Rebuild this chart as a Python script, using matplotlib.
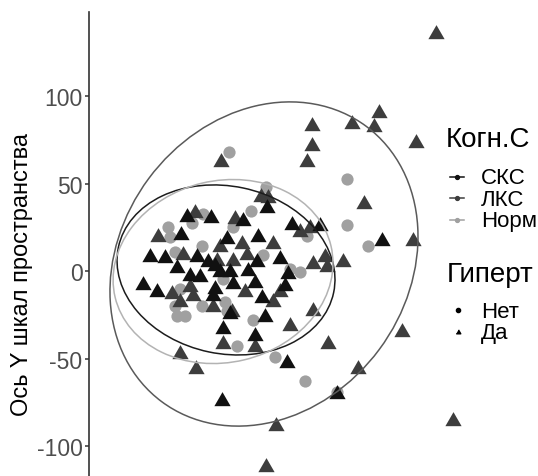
import numpy as np
import matplotlib
matplotlib.use("Agg")
import matplotlib.pyplot as plt
from matplotlib.patches import Ellipse
from matplotlib.lines import Line2D

plt.rcParams['font.family'] = ['Liberation Sans', 'DejaVu Sans']
plt.rcParams['axes.unicode_minus'] = False

# ---- data ----
groups = ["СКС", "ЛКС", "Норм"]          # legend labels as visible (cut at the picture edge)
group_colors = ["#111111", "#3d3d3d", "#a0a0a0"]
ellipse_colors = ["#1c1c1c", "#5a5a5a", "#b3b3b3"]
hyper_labels = ["Нет", "Да"]
legend_title1 = "Когн.С"
legend_title2 = "Гиперт"

# СКС, Да (black triangles)
sks_x = [-21.7, -8.0, -25.1, 10.3, 1.1, 18.9, 24.0, 38.3, 54.3, -42.9, -34.3, -27.4,
         -16.0, -9.7, -5.7, -2.9, 2.9, -20.0, -14.3, 13.1, 18.3, 31.4, 36.0, 34.3,
         21.1, -46.9, -38.9, -6.9, -5.7, 4.6, 17.1, 22.9, -1.1, 17.1, 35.4, 64.0,
         -1.7, 89.7, 2.9]
sks_y = [30.9, 30.3, 20.6, 28.6, 18.3, 19.4, 36.0, 26.3, 25.7, 8.0, 7.4, 1.7,
         8.0, 5.1, 2.9, -0.6, -0.6, -2.9, -3.4, 0.0, 5.1, 6.9, -1.7, -8.6,
         -15.4, -8.0, -12.0, -14.3, -10.3, -7.4, -6.9, -26.3, -33.1, -37.1, -52.6, -70.3,
         -74.3, 17.1, -24.6]

# ЛКС, Да (dark grey triangles)
lks_x = [120.6, 88.0, 72.6, 85.1, 49.7, 49.7, 46.9, 109.1, -2.3, 79.4, 107.4, 20.6,
         24.6, -17.1, 5.7, -38.3, -24.0, 42.9, 48.6, 27.4, 9.7, -2.9, 4.6, 12.6,
         50.3, 57.1, 58.3, 67.4, -30.3, -25.7, -18.3, -20.0, 4.0, 27.4, 31.4, 11.4,
         37.1, 50.3, 58.9, -1.1, 17.1, -25.7, -16.6, 76.0, 101.1, 29.1, 130.3, 23.4,
         -6.9, -4.6]
lks_y = [135.4, 90.3, 84.0, 82.3, 82.9, 71.4, 62.3, 73.1, 62.3, 38.3, 17.1, 42.3,
         41.7, 33.1, 29.7, 19.4, 9.1, 22.3, 24.6, 15.4, 15.4, 13.7, 5.7, 9.1,
         4.0, 8.0, 2.3, 5.1, -13.1, -17.7, -14.3, -9.1, -23.4, -17.7, -12.0, -12.0,
         -31.4, -22.9, -41.7, -41.7, -43.4, -47.4, -56.0, -56.0, -34.9, -88.6, -85.7, -112.0,
         -20.6, 5.7]

# Норма, Нет (light grey circles)
norm_x = [2.3, 69.7, 69.7, 23.4, 14.9, -12.6, -18.9, -32.6, -31.4, 4.6, 46.9, -13.1,
          -28.6, 21.7, 37.1, 42.9, 81.7, -1.1, -25.7, -28.6, -27.4, -22.9, -13.1, 0.0,
          1.1, 16.0, 6.9, 28.6, 45.7, 64.0]
norm_y = [68.0, 52.6, 26.3, 48.0, 34.3, 32.6, 27.4, 25.1, 19.4, 25.1, 20.0, 14.3,
          10.9, 9.1, 1.1, -0.6, 14.3, -4.6, -10.3, -20.0, -25.7, -25.7, -20.0, -17.7,
          -22.9, -28.0, -42.9, -49.1, -62.9, -69.1]

# confidence ellipses (СКС, ЛКС, Норма): centre, full width/height, angle (deg)
ell_cx = [0.6, 22.3, -1.1]
ell_cy = [0.6, 4.0, -0.3]
ell_w = [125.7, 196.0, 126.8]
ell_h = [95.7, 164.0, 103.8]
ell_ang = [-11.9, 53.4, 13.4]

y_ticks = [100, 50, 0, -50, -100]
y_ticklabels = ["100", "50", "0", "-50", "-100"]
y_label = "Ось Y шкал пространства"

W, H = 538, 477
fig = plt.figure(figsize=(W / 100, H / 100), dpi=100)
ax = fig.add_axes([89 / W, 0, 1 - 89 / W, 1 - 13 / H])
ax.set_xlim(-77.7, 178.9)
ax.set_ylim(-117.14, 148.0)

tri = [(-1.0, -0.577), (1.0, -0.577), (0.0, 1.155)]

ax.scatter(norm_x, norm_y, s=8.8 ** 2, marker='o', color=group_colors[2],
           linewidths=0, zorder=2)
ax.scatter(lks_x, lks_y, s=13.5 ** 2, marker=tri, color=group_colors[1],
           linewidths=0, zorder=3)
ax.scatter(sks_x, sks_y, s=13.5 ** 2, marker=tri, color=group_colors[0],
           linewidths=0, zorder=3)

for i in range(len(groups)):
    ax.add_patch(Ellipse((ell_cx[i], ell_cy[i]), ell_w[i], ell_h[i], angle=ell_ang[i],
                         fill=False, edgecolor=ellipse_colors[i], lw=1.1, zorder=4))

for s in ['top', 'right', 'bottom']:
    ax.spines[s].set_visible(False)
ax.spines['left'].set_color('#333333')
ax.spines['left'].set_linewidth(1.2)
ax.set_xticks([])
ax.set_yticks(y_ticks)
ax.set_yticklabels(y_ticklabels)
ax.tick_params(axis='y', length=3.2, width=1.1, color='#333333', pad=1.5,
               labelsize=16.5, labelcolor='#4d4d4d')

fig.text(22 / W, 1 - 274 / H, y_label, rotation=90, ha='center', va='center',
         fontsize=17, color='black')

# ---- legend (drawn in figure pixel coordinates) ----
def fx(px):
    return px / W

def fy(py):
    return 1 - py / H

fig.text(fx(446), fy(147), legend_title1, fontsize=20, ha='left', va='baseline')
rows = [178, 199, 221]
for i, lab in enumerate(groups):
    fig.add_artist(Line2D([fx(450), fx(464)], [fy(rows[i]), fy(rows[i])],
                          color=group_colors[i], lw=1.1, transform=fig.transFigure))
    fig.add_artist(Line2D([fx(457)], [fy(rows[i])], marker='o', ms=2.8,
                          color=group_colors[i], transform=fig.transFigure))
    fig.text(fx(481), fy(rows[i] + 6.5), lab, fontsize=16, ha='left', va='baseline')

fig.text(fx(447), fy(282), legend_title2, fontsize=20, ha='left', va='baseline')
rows2 = [311, 333]
marks2 = ['o', tri]
ms2 = [3.0, 3.8]
for i, lab in enumerate(hyper_labels):
    fig.add_artist(Line2D([fx(458)], [fy(rows2[i])], marker=marks2[i], ms=ms2[i],
                          color='black', lw=0, transform=fig.transFigure))
    fig.text(fx(481), fy(rows2[i] + 6.5), lab, fontsize=16, ha='left', va='baseline')

fig.savefig("out.png", dpi=100)
